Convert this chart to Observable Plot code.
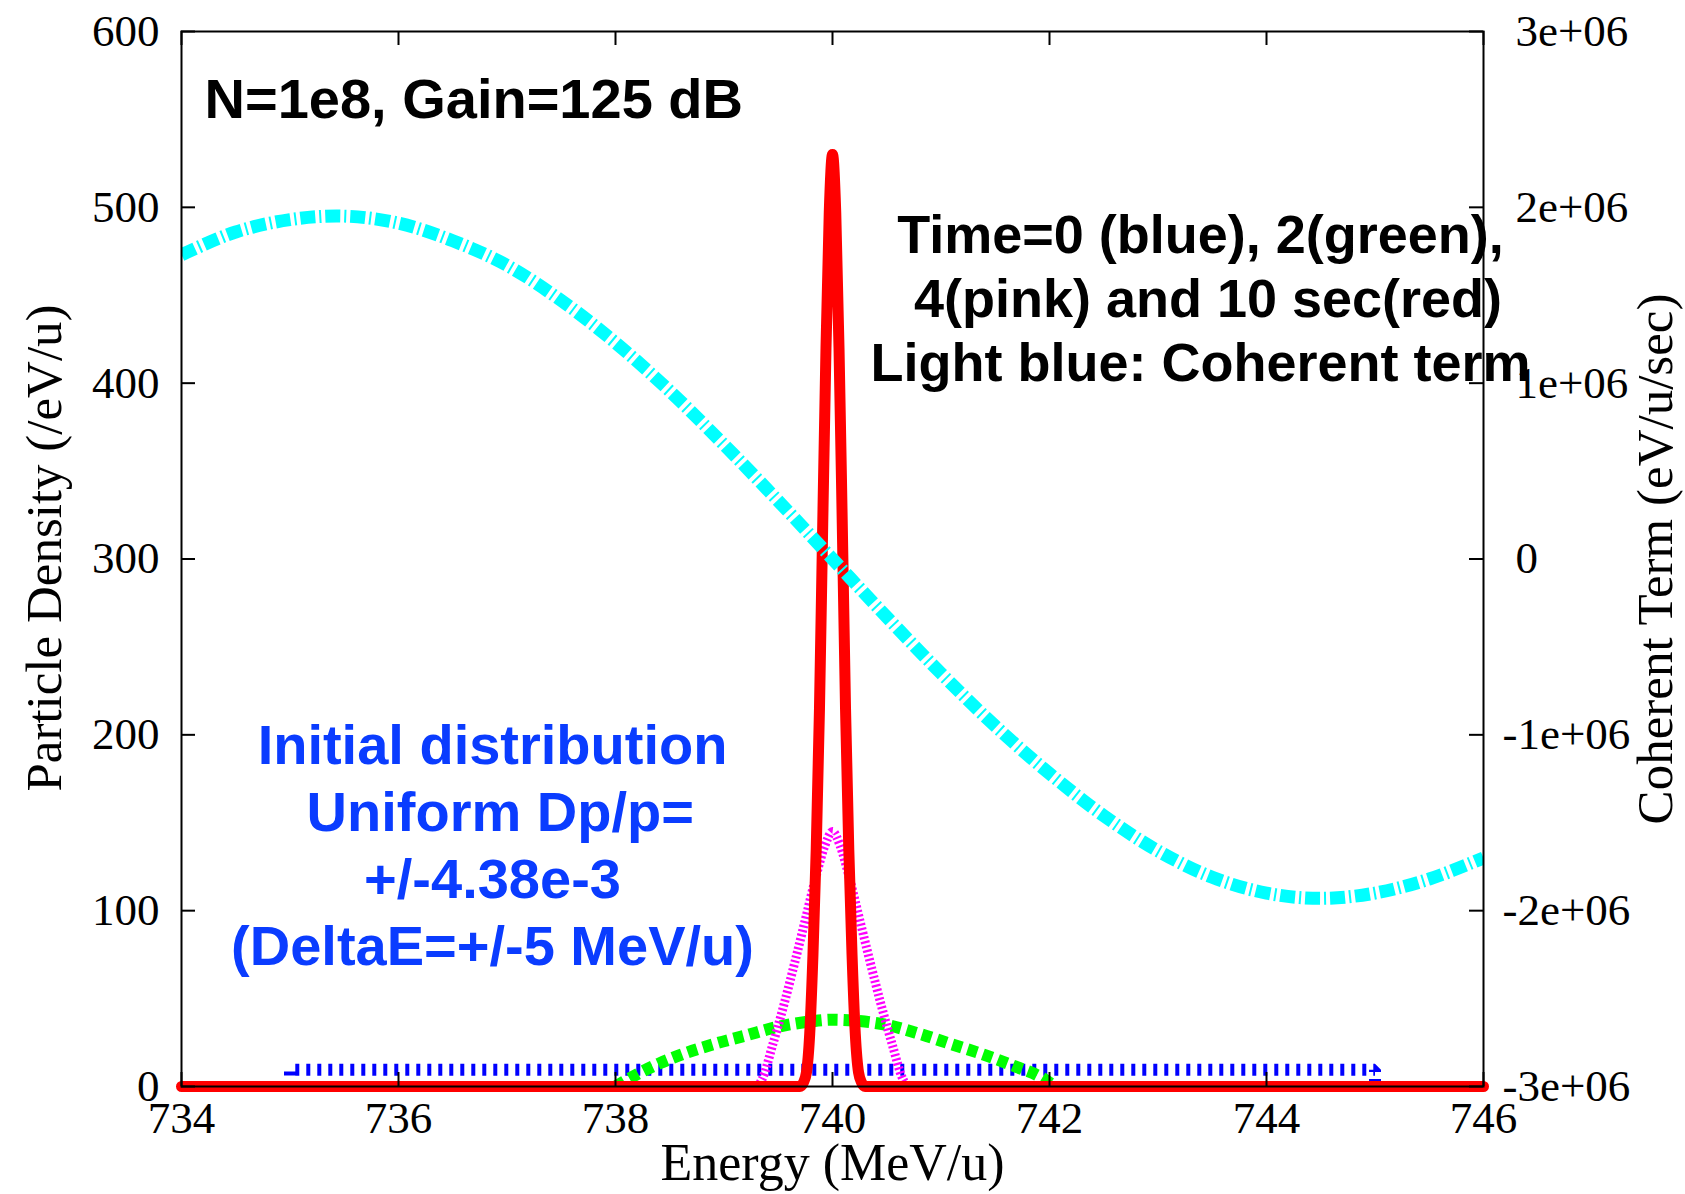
<!DOCTYPE html>
<html><head><meta charset="utf-8">
<script src="https://cdn.jsdelivr.net/npm/d3@7"></script>
<script src="https://cdn.jsdelivr.net/npm/@observablehq/plot@0.6"></script>
<style>
html,body{margin:0;padding:0;background:#fff;}
#chart svg{display:block;}
</style></head><body><div id="chart"></div>
<script>
// ---- data ----
const energyTicks = [734, 736, 738, 740, 742, 744, 746];
const densityTicks = [0, 100, 200, 300, 400, 500, 600];
const coherentTickLabels = ["-3e+06", "-2e+06", "-1e+06", "0", "1e+06", "2e+06", "3e+06"];

// Time = 0 (blue): uniform distribution
const blueE = [735, 735, 745, 745];
const blueD = [0, 9.5, 9.5, 0];

// Time = 2 s (green)
const greenE = [738.0, 738.2, 738.4, 738.6, 738.9, 739.2, 739.5, 739.8, 740.0, 740.2, 740.5, 740.8, 741.1, 741.4, 741.7, 741.9, 742.05];
const greenD = [0, 7, 13, 18, 24, 29, 34, 37, 38, 37.5, 35, 30, 24, 18, 11, 6, 0];

// Time = 4 s (pink)
const pinkE = [739.30, 739.35, 739.45, 739.55, 739.65, 739.75, 739.85, 739.93, 740.0, 740.07, 740.15, 740.25, 740.35, 740.45, 740.55, 740.65, 740.70];
const pinkD = [0, 4, 24, 46, 70, 95, 120, 137, 145, 137, 120, 95, 70, 46, 24, 4, 0];

// Time = 10 s (red)
const redE = [734, 739.70, 739.73, 739.76, 739.79, 739.82, 739.85, 739.88, 739.91, 739.94, 739.97, 740.00, 740.03, 740.06, 740.09, 740.12, 740.15, 740.18, 740.21, 740.24, 740.27, 740.30, 746];
const redD = [0, 0, 2, 8, 30, 75, 135, 215, 320, 420, 497, 530, 497, 420, 320, 215, 135, 75, 30, 8, 2, 0, 0];

// Coherent term (light blue), right axis, eV/u/sec
const coherentE = [734, 734.5, 735, 735.5, 736, 736.5, 737, 737.5, 738, 738.5, 739, 739.5, 740, 740.5, 741, 741.5, 742, 742.5, 743, 743.5, 744, 744.5, 745, 745.5, 746];
const coherentV = [1.73e6, 1.86e6, 1.93e6, 1.95e6, 1.91e6, 1.81e6, 1.67e6, 1.47e6, 1.23e6, 0.955e6, 0.65e6, 0.33e6, 0, -0.33e6, -0.65e6, -0.95e6, -1.22e6, -1.46e6, -1.66e6, -1.81e6, -1.90e6, -1.93e6, -1.90e6, -1.82e6, -1.70e6];

const headline = "N=1e8, Gain=125 dB";
const timeNote = ["Time=0 (blue), 2(green),", "\u00a04(pink) and 10 sec(red)", "Light blue: Coherent term"];
const initNote = ["Initial distribution", "\u00a0Uniform Dp/p=", "+/-4.38e-3", "(DeltaE=+/-5 MeV/u)"];
const xTitle = "Energy (MeV/u)";
const yTitle = "Particle Density (/eV/u)";
const y2Title = "Coherent Term (eV/u/sec)";

// ---- layout ----
const W = 1685, H = 1194, mL = 181, mR = 202, mT = 31, mB = 108;
const innerW = W - mL - mR, innerH = H - mT - mB;
const serif = "'Liberation Serif','Times New Roman',Times,serif";
const sans = "'Liberation Sans',Arial,Helvetica,sans-serif";
const tickLen = 14;

// right axis (-3e6..3e6) mapped onto left axis (0..600)
const coherentToDensity = v => v / 1e4 + 300;
const rows = (xs, ys) => xs.map((x, i) => ({x, y: ys[i]}));
const labelFor = t => coherentTickLabels[densityTicks.indexOf(t)];

const chart = Plot.plot({
  width: W, height: H,
  marginLeft: mL, marginRight: mR, marginTop: mT, marginBottom: mB,
  style: {fontFamily: serif, background: "white", color: "black", overflow: "visible"},
  x: {domain: [734, 746]},
  y: {domain: [0, 600]},
  marks: [
    Plot.line(rows(blueE, blueD), {x: "x", y: "y", stroke: "#0000ff", strokeWidth: 12, strokeDasharray: "4,7", strokeLinecap: "butt", strokeLinejoin: "miter", clip: true}),
    Plot.line(rows(greenE, greenD), {x: "x", y: "y", stroke: "#00ff00", strokeWidth: 12, strokeDasharray: "10,6", strokeLinecap: "butt", curve: "monotone-x", clip: true}),
    Plot.line(rows(pinkE, pinkD), {x: "x", y: "y", stroke: "#ff00ff", strokeWidth: 9, strokeDasharray: "2.2,2.3", strokeLinecap: "butt", curve: "monotone-x", clip: true}),
    Plot.line(rows(redE, redD), {x: "x", y: "y", stroke: "#ff0000", strokeWidth: 11, curve: "monotone-x", strokeLinejoin: "round"}),
    Plot.line(rows(coherentE, coherentV), {x: "x", y: d => coherentToDensity(d.y), stroke: "#00ffff", strokeWidth: 13, strokeDasharray: "15,4,2,4", strokeLinecap: "butt", curve: "catmull-rom", clip: true}),

    // inside ticks on all four sides
    Plot.ruleX(energyTicks, {x: d => d, insetTop: innerH - tickLen, stroke: "black", strokeWidth: 2}),
    Plot.ruleX(energyTicks, {x: d => d, insetBottom: innerH - tickLen, stroke: "black", strokeWidth: 2}),
    Plot.ruleY(densityTicks, {y: d => d, insetRight: innerW - tickLen, stroke: "black", strokeWidth: 2}),
    Plot.ruleY(densityTicks, {y: d => d, insetLeft: innerW - tickLen, stroke: "black", strokeWidth: 2}),

    // tick labels
    Plot.axisX(energyTicks, {anchor: "bottom", tickSize: 0, tickPadding: 15, fontSize: 45, label: null, tickFormat: d => String(d)}),
    Plot.axisY(densityTicks, {anchor: "left", tickSize: 0, tickPadding: 22, fontSize: 45, label: null, tickFormat: d => String(d)}),
    Plot.axisY(densityTicks.filter(t => t >= 300), {anchor: "right", tickSize: 0, tickPadding: 32, fontSize: 45, label: null, tickFormat: labelFor}),
    Plot.axisY(densityTicks.filter(t => t < 300), {anchor: "right", tickSize: 0, tickPadding: 19, fontSize: 45, label: null, tickFormat: labelFor}),

    // axis titles
    Plot.text([xTitle], {text: d => d, frameAnchor: "bottom", textAnchor: "middle", lineAnchor: "top", dy: 57, fontSize: 52, fontFamily: serif, fill: "black"}),
    Plot.text([yTitle], {text: d => d, frameAnchor: "left", textAnchor: "middle", lineAnchor: "middle", rotate: -90, dx: -137, dy: -11, fontSize: 51, fontFamily: serif, fill: "black"}),
    Plot.text([y2Title], {text: d => d, frameAnchor: "right", textAnchor: "middle", lineAnchor: "middle", rotate: -90, dx: 172, dy: 0, fontSize: 51, fontFamily: serif, fill: "black"}),

    // annotations
    Plot.text([headline], {text: d => d, frameAnchor: "top-left", textAnchor: "start", lineAnchor: "top", dx: 23, dy: 47, fontSize: 56, fontWeight: "bold", fontFamily: sans, fill: "black"}),
    Plot.text([timeNote.join("\n")], {text: d => d, frameAnchor: "top-left", textAnchor: "middle", lineAnchor: "top", dx: 1019, dy: 176, lineHeight: 64 / 54, fontSize: 54, fontWeight: "bold", fontFamily: sans, fill: "black"}),
    Plot.text([initNote.join("\n")], {text: d => d, frameAnchor: "top-left", textAnchor: "middle", lineAnchor: "top", dx: 311, dy: 685, lineHeight: 67 / 56, fontSize: 56, fontWeight: "bold", fontFamily: sans, fill: "#0a3cff"}),

    Plot.frame({stroke: "black", strokeWidth: 2})
  ]
});
document.getElementById("chart").appendChild(chart);
</script>
</body></html>
